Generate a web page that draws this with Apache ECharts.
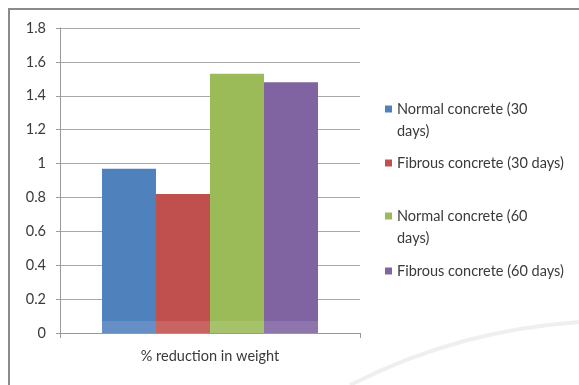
<!DOCTYPE html>
<html>
<head>
<meta charset="utf-8">
<script src="https://cdn.jsdelivr.net/npm/echarts@6/dist/echarts.min.js"></script>
<style>
html,body{margin:0;padding:0;background:#fff;}
#chart{width:579px;height:385px;}
</style>
</head>
<body>
<div id="chart"></div>
<script>
// Data
const categories = ['% reduction in weight'];
const seriesNames = ['Normal concrete (30 days)', 'Fibrous concrete (30 days)', 'Normal concrete (60 days)', 'Fibrous concrete (60 days)'];
const normal30 = [0.97];
const fibrous30 = [0.82];
const normal60 = [1.53];
const fibrous60 = [1.48];
const yTicks = { min: 0, max: 1.8, interval: 0.2 };

const seriesValues = [normal30, fibrous30, normal60, fibrous60];
const colors = ['#4F81BD', '#C0504D', '#9BBB59', '#8064A2'];
const lightColors = ['#6690C5', '#C86461', '#A6C26B', '#8E76AD'];
const legendLabels = {
  'Normal concrete (30 days)': 'Normal concrete (30\ndays)',
  'Fibrous concrete (30 days)': 'Fibrous concrete (30 days)',
  'Normal concrete (60 days)': 'Normal concrete (60\ndays)',
  'Fibrous concrete (60 days)': 'Fibrous concrete (60 days)'
};
const legendTops = [98, 152, 205, 260];
const FONT = 'Lato';
const FS = 14.5;
const TXT = '#3a3a3a';

const chart = echarts.init(document.getElementById('chart'), null, { renderer: 'canvas' });

const series = seriesNames.map((name, i) => ({
  name: name,
  type: 'bar',
  data: seriesValues[i],
  barGap: 0,
  barCategoryGap: '28%',
  itemStyle: {
    color: {
      type: 'linear', x: 0, y: 0, x2: 0, y2: 385, global: true,
      colorStops: [
        { offset: 0, color: colors[i] },
        { offset: 0.834, color: colors[i] },
        { offset: 0.834, color: lightColors[i] },
        { offset: 1, color: lightColors[i] }
      ]
    }
  }
}));

const legends = seriesNames.map((name, i) => {
  const twoLine = legendLabels[name].indexOf('\n') >= 0;
  return {
    data: [name],
    left: 385,
    top: legendTops[i],
    orient: 'vertical',
    icon: twoLine ? 'path://M0,0h7v7h-7z M0,29h0.01v0.01h-0.01z' : 'rect',
    itemWidth: 7,
    itemHeight: twoLine ? 29 : 7,
    padding: 0,
    formatter: n => legendLabels[n],
    textStyle: {
      fontFamily: FONT,
      fontSize: FS,
      color: TXT,
      lineHeight: 22
    }
  };
});

const option = {
  animation: false,
  backgroundColor: '#fff',
  color: colors,
  textStyle: { fontFamily: FONT },
  grid: { left: 60, right: 219, top: 28, bottom: 52, containLabel: false },
  xAxis: {
    type: 'category',
    data: categories,
    axisLine: { lineStyle: { color: '#999', width: 1 } },
    axisTick: { show: true, length: 5, lineStyle: { color: '#999' } },
    axisLabel: { fontFamily: FONT, fontSize: FS, color: TXT, margin: 16 }
  },
  yAxis: {
    type: 'value',
    min: yTicks.min,
    max: yTicks.max,
    interval: yTicks.interval,
    axisLine: { show: true, lineStyle: { color: '#999', width: 1 } },
    axisTick: { show: true, length: 4, lineStyle: { color: '#999' } },
    axisLabel: { fontFamily: FONT, fontSize: FS, color: TXT, margin: 14 },
    splitLine: { lineStyle: { color: '#a8a8a8', width: 1 } }
  },
  legend: legends,
  series: series,
  graphic: [
    {
      type: 'polyline',
      shape: { points: [[9, 390], [9, 9], [590, 9]] },
      style: { stroke: '#8a8a8a', lineWidth: 2, fill: null },
      silent: true
    },
    {
      type: 'bezierCurve',
      shape: { x1: 350, y1: 385, x2: 579, y2: 322, cpx1: 430, cpy1: 345, cpx2: 500, cpy2: 328 },
      style: { stroke: '#efefef', lineWidth: 4, fill: null },
      silent: true,
      z: -1
    }
  ]
};

chart.setOption(option);
</script>
</body>
</html>
